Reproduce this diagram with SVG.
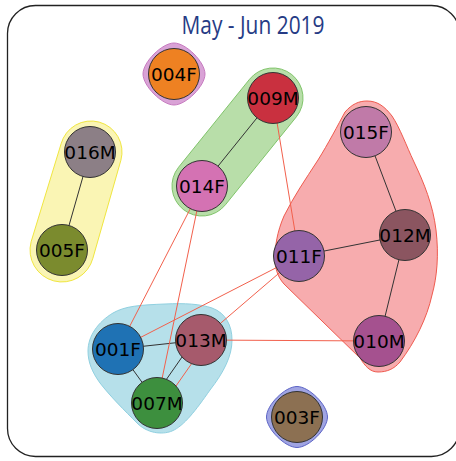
<svg xmlns="http://www.w3.org/2000/svg" width="456" height="461" viewBox="0 0 456 461">
<style>
.n{stroke:#333;stroke-width:1}
.t{font-family:"DejaVu Sans",sans-serif;font-size:18.5px;fill:#000;text-anchor:middle}
.k{stroke:#333;stroke-width:1;fill:none}
.r{stroke:#f2604c;stroke-width:1;fill:none}
</style>
<rect x="7.5" y="5.5" width="452" height="451" rx="28" fill="#fff" stroke="#222" stroke-width="1.3"/>
<text x="253" y="33.5" font-family="'Open Sans','Liberation Sans',sans-serif" font-size="26" fill="#263b85" text-anchor="middle" textLength="143" lengthAdjust="spacingAndGlyphs">May - Jun 2019</text>
<g id="hulls">
<path id="hull-004F" d="M174,43 C186,43 205,62 205,74 C205,86 186,105 174,105 C162,105 143,86 143,74 C143,62 162,43 174,43 Z" fill="#d9a2d6" stroke="#c77bc0" stroke-width="1"/>
<path id="hull-003F" d="M297,386.5 C309,386.5 327.5,405 327.5,417 C327.5,429 309,447.5 297,447.5 C285,447.5 266.5,429 266.5,417 C266.5,405 285,386.5 297,386.5 Z" fill="#a0a4e2" stroke="#5c64c6" stroke-width="1"/>
<path id="hull-green" d="M249.6,79.2 A30,30 0 0 1 296.4,116.8 L225.4,204.8 A30,30 0 0 1 178.6,167.2 Z" fill="#b8dea9" stroke="#80c46a" stroke-width="1"/>
<path id="hull-yellow" d="M61.1,143.8 A30,30 0 0 1 120.9,160.2 L92.9,258.2 A31,31 0 0 1 31.1,241.8 Z" fill="#faf5b4" stroke="#f0e640" stroke-width="1"/>
<path id="hull-red" d="M367,101 C378,101 385,107 392,116 C400,128 406,145 414,162 C424,183 433,205 436,230 C439,255 437,277 432,295 C427,318 415,342 400,362 C394,369 387,372 378,372 C370,372 365,366 360,358 L284,284 C277,276 275,268 275,257 C275,247 277,232 284,216 C294,196 305,180 318,160 C328,144 338,125 345,112 C352,104 359,101 367,101 Z" fill="#f7acae" stroke="#ef5a4e" stroke-width="1"/>
<path id="hull-blue" d="M113,313 C125,306 140,305 165,304 C185,303 200,304 212,308 C226,313 232,326 232,340 C232,356 224,372 210,390 C196,410 184,426 172,431 C165,434 150,435 138,424 C124,410 110,396 100,383 C92,372 88,362 88,351 C88,336 98,322 113,313 Z" fill="#b6e0ea" stroke="#90d0e0" stroke-width="1"/>
</g>
<g id="edges">
<line class="k" x1="273" y1="98" x2="202" y2="186"/>
<line class="k" x1="90" y1="152" x2="62" y2="250"/>
<line class="k" x1="366" y1="132" x2="405" y2="235"/>
<line class="k" x1="405" y1="235" x2="299" y2="256"/>
<line class="k" x1="405" y1="235" x2="379" y2="341"/>
<line class="k" x1="118" y1="349" x2="201" y2="340"/>
<line class="k" x1="118" y1="349" x2="157" y2="403"/>
<line class="k" x1="196" y1="337" x2="152" y2="400"/>
<line class="r" x1="273" y1="98" x2="299" y2="256"/>
<line class="r" x1="202" y1="186" x2="118" y2="349"/>
<line class="r" x1="202" y1="186" x2="157" y2="403"/>
<line class="r" x1="299" y1="256" x2="118" y2="349"/>
<line class="r" x1="299" y1="256" x2="201" y2="340"/>
<line class="r" x1="201" y1="340" x2="379" y2="341"/>
<line class="r" x1="206" y1="343" x2="162" y2="406"/>
</g>
<g id="n004F"><circle class="n" cx="174" cy="74" r="25.5" fill="#ee8122"/><text class="t" x="174" y="80.5">004F</text></g>
<g id="n009M"><circle class="n" cx="273" cy="98" r="25.5" fill="#c9303f"/><text class="t" x="273" y="104.5">009M</text></g>
<g id="n015F"><circle class="n" cx="366" cy="132" r="25.5" fill="#c07aa8"/><text class="t" x="366" y="138.5">015F</text></g>
<g id="n016M"><circle class="n" cx="90" cy="152" r="25.5" fill="#8c7f86"/><text class="t" x="90" y="158.5">016M</text></g>
<g id="n014F"><circle class="n" cx="202" cy="186" r="25.5" fill="#d472b3"/><text class="t" x="202" y="192.5">014F</text></g>
<g id="n012M"><circle class="n" cx="405" cy="235" r="25.5" fill="#8b5560"/><text class="t" x="405" y="241.5">012M</text></g>
<g id="n005F"><circle class="n" cx="62" cy="250" r="25.5" fill="#7b8b2e"/><text class="t" x="62" y="256.5">005F</text></g>
<g id="n011F"><circle class="n" cx="299" cy="256" r="25.5" fill="#9564a8"/><text class="t" x="299" y="262.5">011F</text></g>
<g id="n001F"><circle class="n" cx="118" cy="349" r="25.5" fill="#1f72b4"/><text class="t" x="118" y="355.5">001F</text></g>
<g id="n013M"><circle class="n" cx="201" cy="340" r="25.5" fill="#a65a6c"/><text class="t" x="201" y="346.5">013M</text></g>
<g id="n010M"><circle class="n" cx="379" cy="341" r="25.5" fill="#a5518f"/><text class="t" x="379" y="347.5">010M</text></g>
<g id="n007M"><circle class="n" cx="157" cy="403" r="25.5" fill="#3d8f3e"/><text class="t" x="157" y="409.5">007M</text></g>
<g id="n003F"><circle class="n" cx="297" cy="417" r="25.5" fill="#8c7052"/><text class="t" x="297" y="423.5">003F</text></g>
</svg>
